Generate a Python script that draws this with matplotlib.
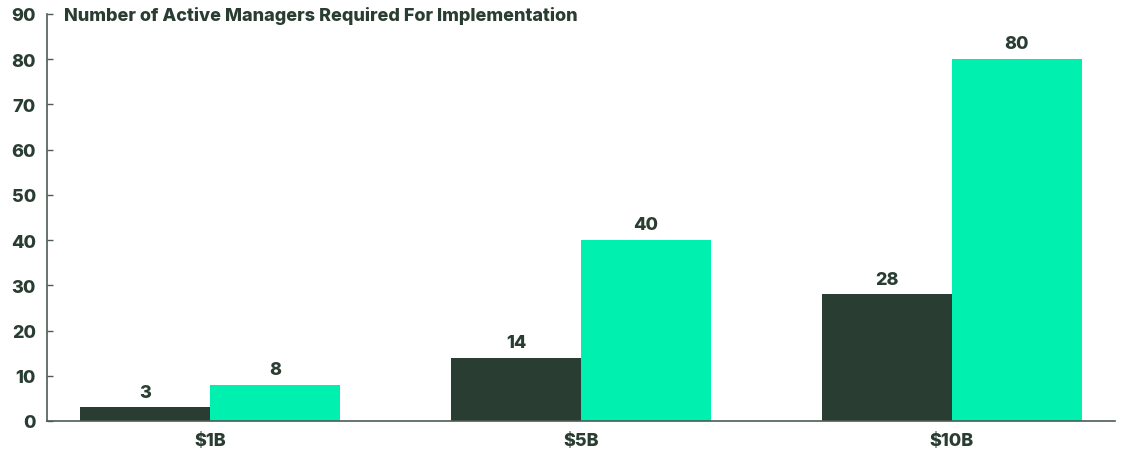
import matplotlib
matplotlib.use("Agg")
import matplotlib.pyplot as plt
import numpy as np

plt.rcParams['font.family'] = ['Inter', 'DejaVu Sans']

categories = ["$1B", "$5B", "$10B"]
series_a = [3, 14, 28]
series_b = [8, 40, 80]
yticks = [0, 10, 20, 30, 40, 50, 60, 70, 80, 90]
title = "Number of Active Managers Required For Implementation"

dark = "#293d32"
green = "#00f0b0"
axis_col = "#4d5c54"
weight = 800

fig = plt.figure(figsize=(11.21, 4.52), dpi=100)
ax = fig.add_axes([47 / 1121, 30 / 452, (1115 - 47) / 1121, (437 - 30) / 452])

x = np.arange(len(categories))
w = 0.35
ax.bar(x - w / 2, series_a, width=w, color=dark)
ax.bar(x + w / 2, series_b, width=w, color=green)

for xs, vals in ((x - w / 2, series_a), (x + w / 2, series_b)):
    for xi, v in zip(xs, vals):
        ax.text(xi, v + 1.5, str(v), ha="center", va="bottom", fontsize=13,
                fontweight=weight, color=dark)

ax.set_xlim(-0.44, 2.44)
ax.set_ylim(0, 90)
ax.set_yticks(yticks)
ax.set_xticks(x)
ax.set_xticklabels(categories)

for s in ["top", "right"]:
    ax.spines[s].set_visible(False)
for s in ["left", "bottom"]:
    ax.spines[s].set_color(axis_col)
    ax.spines[s].set_linewidth(1.2)

ax.tick_params(axis="y", direction="in", length=4, width=1, color=axis_col,
               labelsize=13, labelcolor=dark, pad=8)
ax.tick_params(axis="x", length=0, labelsize=13, labelcolor=dark, pad=8)
for lab in ax.get_yticklabels() + ax.get_xticklabels():
    lab.set_fontweight(weight)

fig.text(64 / 1121, 1 - 16 / 452, title, ha="left", va="center",
         fontsize=13, fontweight=weight, color=dark)

fig.savefig("out.png", dpi=100)
